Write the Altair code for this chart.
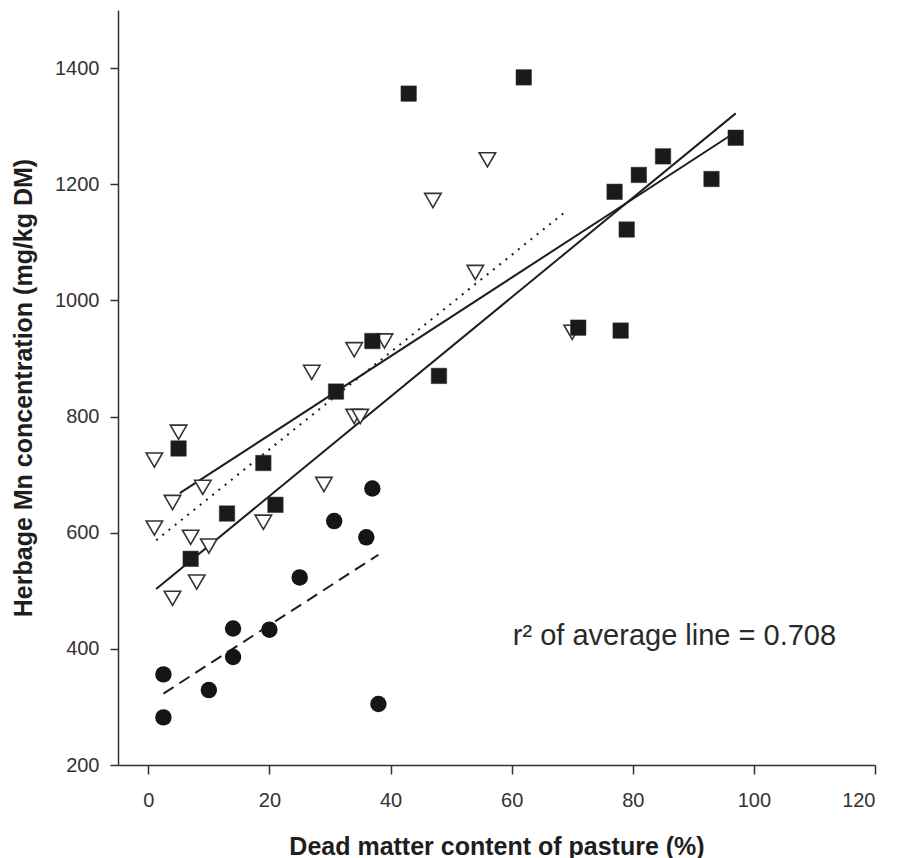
import altair as alt
import pandas as pd

# --- data ---
sq_x = [5, 7, 13, 19, 21, 31, 37, 48, 43, 62, 71, 78, 77, 79, 81, 85, 93, 97]
sq_y = [745, 555, 633, 720, 648, 843, 930, 870, 1356, 1384, 953, 948, 1187, 1122, 1216, 1248, 1209, 1280]

tri_x = [1, 5, 4, 1, 9, 7, 10, 8, 4, 19, 29, 27, 34, 39, 34, 35, 54, 47, 56, 70]
tri_y = [725, 773, 652, 608, 678, 592, 577, 515, 487, 618, 683, 876, 915, 930, 800, 800, 1048, 1172, 1242, 945]

cir_x = [37, 30.7, 36, 25, 14, 20, 14, 2.5, 10, 2.5, 38]
cir_y = [676, 620, 592, 523, 435, 433, 386, 356, 329, 282, 305]

# regression line end points
dash_x = [2.5, 38]
dash_y = [323, 562]
dot_x = [1.3, 69.3]
dot_y = [587, 1156]
solid1_x = [5.2, 96]
solid1_y = [668, 1283]
solid2_x = [1.3, 97]
solid2_y = [503, 1322]

note_x = [60.2]
note_y = [406]
note_text = ["r\u00b2 of average line = 0.708"]

x_ticks = [0, 20, 40, 60, 80, 100, 120]
y_ticks = [200, 400, 600, 800, 1000, 1200, 1400]

FONT = "Liberation Sans"
INK = "#1e1e1e"

xs = alt.Scale(domain=[-5, 120], nice=False, zero=False)
ys = alt.Scale(domain=[200, 1500], nice=False, zero=False)

x_axis = alt.Axis(values=x_ticks, title="Dead matter content of pasture (%)", format="d",
                  labelFontSize=20, titleFontSize=25, tickSize=9, labelPadding=16,
                  titlePadding=24, grid=False, domainColor="#333", tickColor="#333",
                  domainWidth=1.5, tickWidth=1.5, labelColor="#333", titleColor=INK,
                  labelFont=FONT, titleFont=FONT, titleFontWeight="bold")
y_axis = alt.Axis(values=y_ticks, title="Herbage Mn concentration (mg/kg DM)", format="d",
                  labelFontSize=20, titleFontSize=25, tickSize=8, labelPadding=11,
                  titlePadding=18, grid=False, domainColor="#333", tickColor="#333",
                  domainWidth=1.5, tickWidth=1.5, labelColor="#333", titleColor=INK,
                  labelFont=FONT, titleFont=FONT, titleFontWeight="bold")

sq = pd.DataFrame({"x": sq_x, "y": sq_y})
tri = pd.DataFrame({"x": tri_x, "y": tri_y})
cir = pd.DataFrame({"x": cir_x, "y": cir_y})


def line_layer(lx, ly, dash):
    df = pd.DataFrame({"x": lx, "y": ly})
    kw = dict(color=INK, strokeWidth=2)
    if dash:
        kw["strokeDash"] = dash
    return alt.Chart(df).mark_line(**kw).encode(
        x=alt.X("x:Q", scale=xs, axis=x_axis),
        y=alt.Y("y:Q", scale=ys, axis=y_axis))


l_dash = line_layer(dash_x, dash_y, [12, 7])
l_dot = line_layer(dot_x, dot_y, [2, 6])
l_s1 = line_layer(solid1_x, solid1_y, None)
l_s2 = line_layer(solid2_x, solid2_y, None)

p_tri = alt.Chart(tri).mark_point(shape="triangle-down", size=270, filled=True,
                                  fill="white", stroke="#333", strokeWidth=1.6, opacity=1).encode(
    x=alt.X("x:Q", scale=xs, axis=x_axis), y=alt.Y("y:Q", scale=ys, axis=y_axis))
p_sq = alt.Chart(sq).mark_point(shape="square", size=240, filled=True,
                                fill="#1a1a1a", stroke="#333", strokeWidth=0.5, opacity=1).encode(
    x=alt.X("x:Q", scale=xs, axis=x_axis), y=alt.Y("y:Q", scale=ys, axis=y_axis))
p_cir = alt.Chart(cir).mark_point(shape="circle", size=270, filled=True,
                                  fill="#151515", opacity=1).encode(
    x=alt.X("x:Q", scale=xs, axis=x_axis), y=alt.Y("y:Q", scale=ys, axis=y_axis))

note = alt.Chart(pd.DataFrame({"x": note_x, "y": note_y, "t": note_text})).mark_text(
    align="left", baseline="alphabetic", fontSize=29, font=FONT, color="#2a2a2a").encode(
    x=alt.X("x:Q", scale=xs, axis=x_axis), y=alt.Y("y:Q", scale=ys, axis=y_axis), text="t:N")

chart = alt.layer(l_dash, l_dot, l_s1, l_s2, p_tri, p_sq, p_cir, note).properties(
    width=757, height=755,
    autosize=alt.AutoSizeParams(type="none"),
    padding={"left": 110, "top": 2, "right": 15, "bottom": 93},
    background="white",
).configure_view(stroke=None)

chart.save("out.html", embed_options={"renderer": "svg", "actions": False})
